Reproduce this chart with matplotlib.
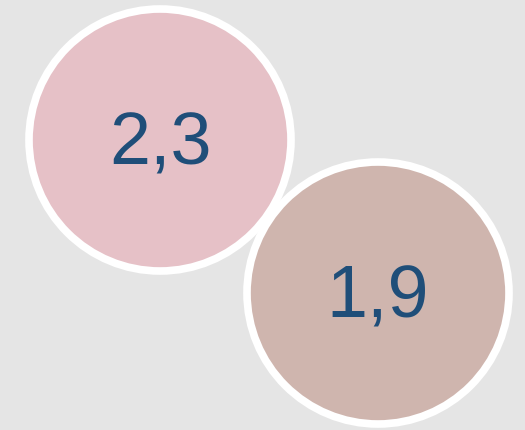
import matplotlib.pyplot as plt
from matplotlib.patches import Circle

# data
values = [2.3, 1.9]
labels = [f"{v:.1f}".replace(".", ",") for v in values]

# layout (pixel coordinates, y down)
centers = [(160, 141), (378, 294)]
radius = 131
fills = ["#e6c1c7", "#cfb5ae"]
text_color = "#1f4e79"

fig = plt.figure(figsize=(5.25, 4.31), dpi=100, facecolor="#e5e5e5")
ax = fig.add_axes([0, 0, 1, 1])
ax.set_xlim(0, 525)
ax.set_ylim(431, 0)
ax.set_aspect("equal")
ax.axis("off")

for (cx, cy), fill, lab in zip(centers, fills, labels):
    ax.add_patch(Circle((cx, cy), radius, facecolor=fill,
                        edgecolor="white", linewidth=5.5))
    ax.text(cx, cy + 24, lab, ha="center", va="baseline", fontsize=53,
            color=text_color, family="Liberation Sans")

fig.savefig("out.png", dpi=100, facecolor=fig.get_facecolor())
